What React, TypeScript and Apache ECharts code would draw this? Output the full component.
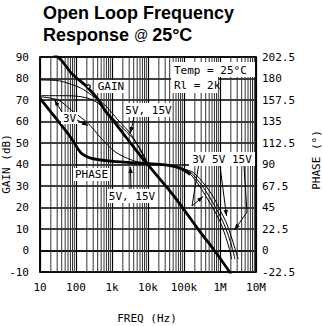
import React, { useEffect, useRef } from "react";
import * as echarts from "echarts";

// ---- axes ----
const xTickLabels = ["10", "100", "1k", "10k", "100k", "1M", "10M"];
const gainMin = -10;
const gainMax = 90;
const gainStep = 10;
const phaseMin = -22.5;
const phaseMax = 202.5;
const phaseStep = 22.5;
const minorGridFreqs = [
  20, 30, 40, 50, 60, 70, 80, 90,
  200, 300, 400, 500, 600, 700, 800, 900,
  2000, 3000, 4000, 5000, 6000, 7000, 8000, 9000,
  20000, 30000, 40000, 50000, 60000, 70000, 80000, 90000,
  200000, 300000, 400000, 500000, 600000, 700000, 800000, 900000,
  2000000, 3000000, 4000000, 5000000, 6000000, 7000000, 8000000, 9000000,
];

// ---- gain curves [Hz, dB] ----
const gainMain: [number, number][] = [
  [10, 96], [20, 92.5], [40, 88.3], [74, 82.5], [200, 76.2], [400, 70.5],
  [630, 65.3], [1200, 59.5], [2200, 53.7], [5000, 46], [10000, 39.8],
  [50000, 25.8], [280000, 8.7], [700000, 0], [1700000, -9.1], [2000000, -11],
];
const gainMid: [number, number][] = [
  [10, 79.3], [31.6, 79], [74, 77.3], [141, 75.4], [270, 72.3], [630, 67.7],
  [1470, 60.7], [3500, 53.7], [6000, 47], [10000, 40.4], [20000, 33.9],
];
const gainLow: [number, number][] = [
  [10, 72], [40, 72], [100, 71.8], [215, 70.8], [410, 68.5], [775, 63.8],
  [1800, 57.6], [3500, 52.8], [6000, 47.5], [10000, 40.4], [20000, 33.9],
];

// ---- phase curves [Hz, degrees] ----
const phase5V15VLow: [number, number][] = [
  [10, 159.3], [25.6, 140], [74, 117.5], [141, 101.7], [270, 96.5],
  [955, 93.6], [5200, 91.4], [10000, 90.9], [30000, 89.6], [80000, 86], [150000, 79.5],
];
const phase3V: [number, number][] = [
  [10, 160.9], [32, 157.5], [74, 146.9], [215, 133.2], [500, 117.5],
  [1200, 103.5], [3500, 94.7], [10000, 90.5], [30000, 89.6], [80000, 86],
  [150000, 79.9], [280000, 66.4], [450000, 54], [650000, 43.9], [1000000, 30.4],
  [1400000, 15.8], [1800000, 2.3], [2100000, -9],
];
const phase5VHigh: [number, number][] = [
  [10000, 90.9], [30000, 89.6], [80000, 86], [160000, 81], [320000, 67.5],
  [530000, 55.1], [780000, 43.9], [1200000, 30.4], [1700000, 15.8],
  [2200000, 2.3], [2600000, -9],
];
const phase15VHigh: [number, number][] = [
  [10000, 90.9], [30000, 89.6], [80000, 86], [180000, 81.7], [380000, 68.6],
  [650000, 56.3], [950000, 43.9], [1450000, 30.4], [2000000, 15.8],
  [2600000, 2.3], [3200000, -9],
];

const MONO = '"DejaVu Sans Mono", monospace';
const SANS = '"Liberation Sans", Arial, sans-serif';

function arrow(points: number[][], head: boolean = true): any[] {
  const els: any[] = [
    {
      type: "polyline",
      z: 101,
      shape: { points },
      style: { stroke: "#000", lineWidth: 1, fill: null },
    },
  ];
  if (head) {
    const [x2, y2] = points[points.length - 1];
    const [x1, y1] = points[points.length - 2];
    const a = Math.atan2(y2 - y1, x2 - x1);
    const L = 6;
    const W = 2.2;
    const bx = x2 - L * Math.cos(a);
    const by = y2 - L * Math.sin(a);
    els.push({
      type: "polygon",
      z: 101,
      shape: {
        points: [
          [x2, y2],
          [bx + W * Math.sin(a), by - W * Math.cos(a)],
          [bx - W * Math.sin(a), by + W * Math.cos(a)],
        ],
      },
      style: { fill: "#000" },
    });
  }
  return els;
}

function box(x: number, y: number, w: number, h: number): any {
  return { type: "rect", z: 100, shape: { x, y, width: w, height: h }, style: { fill: "#fff" } };
}

function label(text: string, cx: number, cy: number, size: number = 11): any {
  return {
    type: "text",
    z: 102,
    x: cx,
    y: cy,
    style: { text, font: `${size}px ${MONO}`, fill: "#000", align: "center", verticalAlign: "middle" },
  };
}

function lineSeries(data: [number, number][], width: number, yAxisIndex: number): any {
  return {
    type: "line",
    data,
    yAxisIndex,
    symbol: "none",
    showSymbol: false,
    smooth: 0.3,
    z: 3,
    lineStyle: { color: "#000", width },
  };
}

export default function App() {
  const ref = useRef<HTMLDivElement>(null);
  useEffect(() => {
    if (!ref.current) return;
    const chart = echarts.init(ref.current, undefined, { renderer: "svg" });
    const graphic: any[] = [
      {
        type: "text",
        z: 102,
        x: 43,
        y: 4,
        style: { text: "Open Loop Frequency", font: `bold 18px ${SANS}`, fill: "#000" },
      },
      {
        type: "text",
        z: 102,
        x: 43,
        y: 26,
        style: {
          text: "{b|Response }{a|@ }{b|25°C}",
          fill: "#000",
          rich: {
            b: { font: `bold 18px ${SANS}`, fill: "#000" },
            a: { font: `14px ${SANS}`, fill: "#000" },
          },
        },
      },
      {
        type: "text",
        z: 102,
        x: 6,
        y: 164,
        rotation: Math.PI / 2,
        style: { text: "GAIN (dB)", font: `11px ${MONO}`, fill: "#000", align: "center", verticalAlign: "middle" },
      },
      {
        type: "text",
        z: 102,
        x: 316,
        y: 160,
        rotation: Math.PI / 2,
        style: { text: "PHASE (°)", font: `11px ${MONO}`, fill: "#000", align: "center", verticalAlign: "middle" },
      },
      {
        type: "text",
        z: 102,
        x: 147,
        y: 318,
        style: { text: "FREQ (Hz)", font: `11px ${MONO}`, fill: "#000", align: "center", verticalAlign: "middle" },
      },
      // GAIN
      box(97, 80, 28, 13),
      label("GAIN", 111, 86.5),
      { type: "circle", z: 101, shape: { cx: 88.5, cy: 86.5, r: 1.8 }, style: { fill: "#fff", stroke: "#000", lineWidth: 1.2 } },
      // Temp box
      box(171, 62, 84, 15),
      box(171, 77, 47, 16),
      { type: "text", z: 102, x: 174, y: 70, style: { text: "Temp = 25°C", font: `11px ${MONO}`, fill: "#000", verticalAlign: "middle" } },
      { type: "text", z: 102, x: 174, y: 85, style: { text: "Rl = 2k", font: `11px ${MONO}`, fill: "#000", verticalAlign: "middle" } },
      // 5V,15V top
      box(125, 103, 47, 14),
      label("5V, 15V", 148.5, 110),
      ...arrow([[134, 117], [130.5, 133]]),
      // 3V
      box(61, 112, 17, 12),
      label("3V", 69.5, 118),
      ...arrow([[62, 112], [54.5, 100]]),
      ...arrow([[77, 120], [88, 125.5]]),
      // PHASE
      box(73, 168, 37, 13),
      label("PHASE", 91.5, 174.5),
      // 5V,15V bottom
      box(108, 189, 48, 14),
      label("5V, 15V", 132, 196),
      ...arrow([[131, 189], [130.5, 167]]),
      // 3V 5V 15V
      box(189, 152, 66, 14),
      label("3V 5V 15V", 222, 159),
      ...arrow([[198.5, 166], [192, 206]], false),
      ...arrow([[192, 206], [203, 196.5]]),
      ...arrow([[220, 166], [226.5, 216]]),
      ...arrow([[244, 166], [247, 212], [234.5, 230]]),
    ];

    chart.setOption({
      animation: false,
      backgroundColor: "#fff",
      grid: { left: 40, right: 67, top: 57, bottom: 54, show: true, borderColor: "#000", borderWidth: 1.5 },
      xAxis: {
        type: "log",
        logBase: 10,
        min: 10,
        max: 10000000,
        splitNumber: 6,
        axisLine: { show: true, lineStyle: { color: "#000", width: 1.5 } },
        axisTick: { show: false },
        splitLine: { show: true, lineStyle: { color: "#000", width: 1.2 } },
        axisLabel: {
          margin: 10,
          color: "#000",
          fontFamily: MONO,
          fontSize: 11,
          formatter: (v: number) => xTickLabels[Math.round(Math.log10(v)) - 1] ?? "",
        },
      },
      yAxis: [
        {
          type: "value",
          position: "left",
          min: gainMin,
          max: gainMax,
          interval: gainStep,
          axisLine: { show: true, lineStyle: { color: "#000", width: 1.5 } },
          axisTick: { show: false },
          splitLine: { show: true, lineStyle: { color: "#000", width: 1.5 } },
          axisLabel: { margin: 11, color: "#000", fontFamily: MONO, fontSize: 11 },
        },
        {
          type: "value",
          position: "right",
          min: phaseMin,
          max: phaseMax,
          interval: phaseStep,
          axisLine: { show: true, lineStyle: { color: "#000", width: 1.5 } },
          axisTick: { show: false },
          splitLine: { show: false },
          axisLabel: { margin: 6, color: "#000", fontFamily: MONO, fontSize: 11 },
        },
      ],
      series: [
        {
          type: "custom",
          z: 1,
          silent: true,
          data: minorGridFreqs.map((f) => [f]),
          renderItem: (params: any, api: any) => {
            const f = api.value(0);
            const p1 = api.coord([f, gainMax]);
            const p2 = api.coord([f, gainMin]);
            return {
              type: "line",
              shape: { x1: p1[0], y1: p1[1], x2: p2[0], y2: p2[1] },
              style: { stroke: "#333", lineWidth: 1 },
            };
          },
        },
        lineSeries(gainMid, 1, 0),
        lineSeries(gainLow, 1, 0),
        lineSeries(gainMain, 2.8, 0),
        lineSeries(phase3V, 1, 1),
        lineSeries(phase5VHigh, 1, 1),
        lineSeries(phase15VHigh, 1, 1),
        lineSeries(phase5V15VLow, 2.8, 1),
      ],
      graphic,
    });
    return () => chart.dispose();
  }, []);
  return (
    <div
      ref={ref}
      style={{ position: "fixed", left: 0, top: 0, width: 323, height: 326, background: "#fff" }}
    />
  );
}
